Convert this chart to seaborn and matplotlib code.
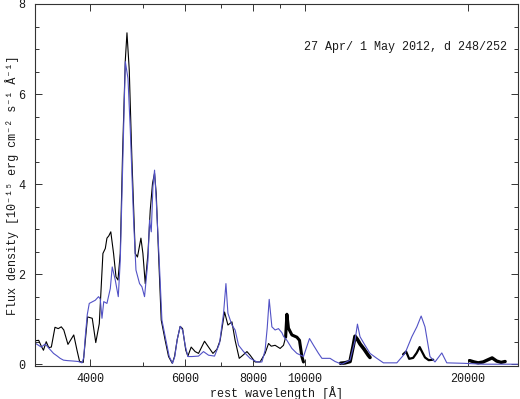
import matplotlib
matplotlib.use("Agg")
import matplotlib.pyplot as plt
import seaborn as sns
import pandas as pd
from matplotlib.ticker import FixedLocator, NullFormatter, MultipleLocator

# ---- data (rest wavelength in Angstrom, flux in 1e-15 erg/cm2/s/A) ----
black_wl_1 = [3160, 3210, 3246, 3276, 3315, 3350, 3388, 3441, 3489, 3535, 3573, 3637, 3728, 3780, 3822,
              3882, 3954, 4034, 4095, 4157, 4222, 4265, 4295, 4329, 4366, 4418, 4464, 4502, 4546, 4591,
              4645, 4678, 4724, 4778, 4846, 4892, 4965, 5007, 5057, 5116, 5166, 5217, 5262, 5300, 5352,
              5414, 5506, 5586, 5675, 5730, 5797, 5870, 5930, 6012, 6066, 6152, 6257, 6348, 6512, 6625,
              6750, 6866, 6961, 7039, 7093, 7196, 7320, 7420, 7551, 7672, 7804, 7910, 8080, 8254, 8432,
              8557, 8656, 8800, 8990, 9121, 9204]
black_fx_1 = [0.52, 0.53, 0.40, 0.31, 0.50, 0.37, 0.38, 0.82, 0.79, 0.83, 0.76, 0.44, 0.65, 0.31, 0.06,
              0.04, 1.05, 1.02, 0.48, 0.90, 2.46, 2.57, 2.80, 2.85, 2.94, 2.46, 1.94, 1.87, 2.46, 4.68,
              6.75, 7.36, 6.53, 4.54, 2.46, 2.38, 2.80, 2.46, 1.79, 2.46, 3.42, 4.02, 4.24, 3.79, 2.46,
              0.98, 0.53, 0.17, 0.02, 0.17, 0.55, 0.84, 0.79, 0.31, 0.18, 0.38, 0.28, 0.24, 0.51, 0.38,
              0.24, 0.33, 0.53, 0.90, 1.16, 0.87, 0.94, 0.53, 0.13, 0.20, 0.28, 0.20, 0.05, 0.05, 0.24,
              0.46, 0.40, 0.42, 0.35, 0.42, 0.60]

black_wl_2 = [9204, 9254, 9316, 9453, 9657, 9765, 9864, 9932]
black_fx_2 = [0.60, 1.11, 0.80, 0.65, 0.60, 0.53, 0.17, 0.05]

black_wl_3 = [11639, 11859, 12114, 12277, 12375, 12503, 12641, 12869, 13089, 13192]
black_fx_3 = [0.02, 0.03, 0.06, 0.40, 0.62, 0.55, 0.45, 0.33, 0.20, 0.15]

black_wl_4 = [15192, 15388, 15589, 15855, 16095, 16305, 16479, 16678, 16943, 17273]
black_fx_4 = [0.22, 0.28, 0.12, 0.14, 0.25, 0.38, 0.27, 0.15, 0.09, 0.10]

black_wl_5 = [20178, 20568, 20924, 21375, 21833, 22209, 22641, 23077, 23477]
black_fx_5 = [0.08, 0.05, 0.03, 0.05, 0.10, 0.14, 0.07, 0.04, 0.06]

blue_wl = [3160, 3246, 3301, 3350, 3420, 3475, 3518, 3568, 3626, 3720, 3800, 3861, 3891, 3915, 3949,
           3983, 4086, 4144, 4174, 4205, 4237, 4295, 4357, 4393, 4450, 4508, 4546, 4591, 4645, 4698,
           4745, 4812, 4861, 4936, 4986, 5042, 5116, 5151, 5189, 5226, 5262, 5300, 5368, 5430, 5524,
           5602, 5682, 5736, 5797, 5870, 5935, 5996, 6066, 6171, 6348, 6484, 6625, 6796, 6942, 7063,
           7135, 7196, 7320, 7420, 7530, 7692, 7910, 8142, 8319, 8432, 8508, 8581, 8680, 8800, 8928,
           9058, 9121, 9254, 9453, 9657, 9932, 10048, 10191, 10366, 10590, 10745, 11124, 11364, 11698,
           12114, 12375, 12503, 12641, 12914, 13192, 13582, 13969, 14791, 15315, 15768, 16109, 16408,
           16678, 17037, 17404, 17918, 18303, 19652, 21375, 24800]
blue_fx = [0.47, 0.38, 0.45, 0.36, 0.24, 0.18, 0.13, 0.09, 0.08, 0.07, 0.06, 0.03, 0.15, 0.60, 1.10,
           1.35, 1.42, 1.50, 1.45, 1.02, 1.39, 1.35, 1.68, 2.16, 1.87, 1.50, 2.30, 4.30, 6.72, 6.35,
           5.20, 3.20, 2.09, 1.79, 1.72, 1.50, 2.30, 3.20, 2.94, 3.94, 4.31, 3.64, 2.30, 0.98, 0.53,
           0.17, 0.02, 0.17, 0.55, 0.84, 0.75, 0.42, 0.17, 0.17, 0.18, 0.28, 0.20, 0.18, 0.46, 1.13,
           1.79, 1.13, 0.87, 0.76, 0.42, 0.28, 0.13, 0.05, 0.05, 0.31, 0.80, 1.44, 0.83, 0.76, 0.79,
           0.70, 0.62, 0.53, 0.35, 0.24, 0.17, 0.35, 0.57, 0.42, 0.24, 0.13, 0.13, 0.06, 0.00,
           0.09, 0.53, 0.89, 0.61, 0.42, 0.24, 0.13, 0.03, 0.03, 0.24, 0.61, 0.83, 1.07,
           0.83, 0.17, 0.05, 0.25, 0.03, 0.02, 0.00, 0.00]

x_major = [4000, 6000, 8000, 10000, 20000]
x_major_labels = ["4000", "6000", "8000", "10000", "20000"]
x_minor = [5000, 7000, 9000]
annotation = "27 Apr/ 1 May 2012, d 248/252"

# ---- plot ----
sns.set_style("ticks")
plt.rcParams["font.family"] = ["Liberation Mono", "DejaVu Sans Mono"]

fig = plt.figure(figsize=(5.2, 3.99), dpi=100)
ax = fig.add_axes([35 / 520, 1 - 366 / 399, 483 / 520, 362 / 399])
ax.set_xscale("log")

black_segments = [(black_wl_1, black_fx_1, 0.8), (black_wl_2, black_fx_2, 2.2),
                  (black_wl_3, black_fx_3, 2.6), (black_wl_4, black_fx_4, 1.6),
                  (black_wl_5, black_fx_5, 2.4)]
for wl, fx, lw in black_segments:
    sns.lineplot(x=wl, y=fx, ax=ax, color="black", lw=lw, estimator=None, sort=False)

sns.lineplot(x=blue_wl, y=blue_fx, ax=ax, color="#5252c6", lw=0.8, estimator=None, sort=False)

ax.set_xlim(3160, 24800)
ax.set_ylim(-0.04, 8.0)

ax.xaxis.set_major_locator(FixedLocator(x_major))
ax.set_xticklabels(x_major_labels)
ax.xaxis.set_minor_locator(FixedLocator(x_minor))
ax.xaxis.set_minor_formatter(NullFormatter())
ax.yaxis.set_major_locator(MultipleLocator(2))
ax.yaxis.set_minor_locator(MultipleLocator(0.5))

ax.tick_params(which="both", direction="in", top=True, right=True, colors="#333333",
               labelcolor="#1a1a1a", labelsize=8.5, width=0.7)
ax.tick_params(which="major", length=5)
ax.tick_params(which="minor", length=3)
ax.tick_params(axis="y", which="major", pad=7)
ax.tick_params(axis="x", which="major", pad=5)
for s in ax.spines.values():
    s.set_linewidth(0.8)
    s.set_color("#333333")

ax.set_xlabel("rest wavelength [Å]", fontsize=8.5, color="#1a1a1a", labelpad=1)
ax.set_ylabel("Flux density [10⁻¹⁵ erg cm⁻² s⁻¹ Å⁻¹]", fontsize=8.5, color="#1a1a1a")
ax.yaxis.set_label_coords(-0.034, 0.5)

ax.text(0.977, 0.881, annotation, transform=ax.transAxes, ha="right", va="center",
        fontsize=8.5, color="#1a1a1a")

fig.savefig("out.png", dpi=100)
